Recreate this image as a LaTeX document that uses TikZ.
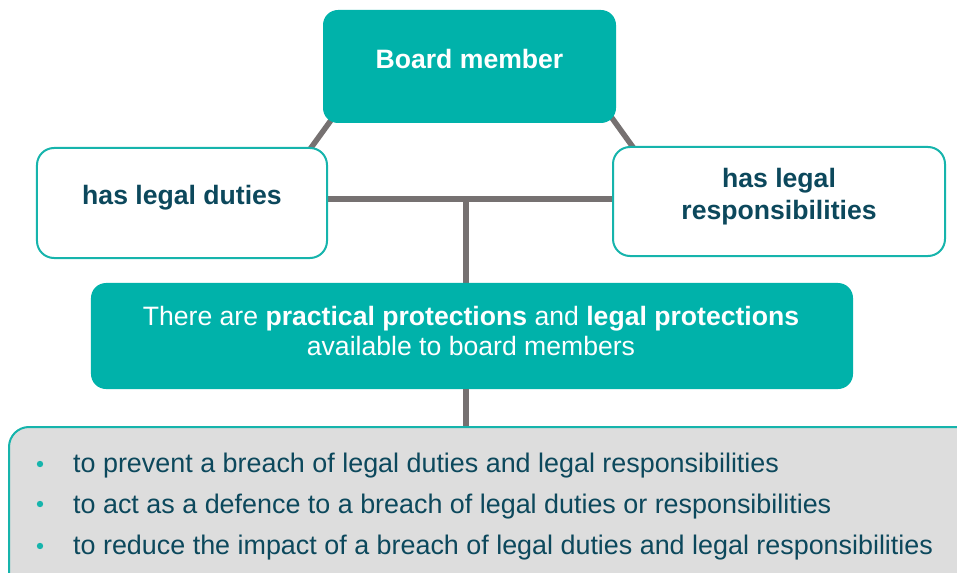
\documentclass[tikz,border=0pt]{standalone}
\usepackage{fontspec}
\setmainfont{Liberation Sans}
\usetikzlibrary{backgrounds}
\definecolor{boardteal}{RGB}{0,178,170}
\definecolor{edgeteal}{RGB}{22,180,172}
\definecolor{darktext}{RGB}{12,72,92}
\definecolor{linkgrey}{RGB}{118,113,113}
\definecolor{listgrey}{RGB}{221,221,221}
\tikzset{
	tealbox/.style={rectangle, rounded corners=15bp, fill=boardteal, inner sep=0pt},
	whitebox/.style={rectangle, rounded corners=17bp, draw=edgeteal, line width=2bp, fill=white, inner sep=0pt},
	headtext/.style={font=\fontsize{26.7}{32}\selectfont\bfseries, text=darktext, align=center, inner sep=0pt},
	bodytext/.style={font=\fontsize{26.7}{31}\selectfont, text=white, align=center, inner sep=0pt},
	listtext/.style={font=\fontsize{27}{32}\selectfont, text=darktext, inner sep=0pt, anchor=base west},
	link/.style={draw=linkgrey, line width=5.5bp},
}

\begin{document}
\begin{tikzpicture}[x=1bp, y=-1bp]
			%%%%% START %%%%%
			\useasboundingbox (0,0) rectangle (957,573);
			\clip (0,0) rectangle (957,573);
			
			% top of the tree
			\node[tealbox, minimum width=293bp, minimum height=113bp] (board) at (469.5,66.5) {};
			\node[headtext, text=white, anchor=base] (boardtxt) at (469.5,69) {Board member};
			
			% the two branches
			\node[whitebox, minimum width=290bp, minimum height=110bp] (duties) at (182,203) {};
			\node[headtext, anchor=base] (dutiestxt) at (182,205) {has legal duties};
			
			\node[whitebox, minimum width=332bp, minimum height=109bp] (resp) at (779,201.5) {};
			\node[headtext] (resptxt) at (779,197) {has legal\\responsibilities};
			
			% protections
			\node[tealbox, minimum width=762bp, minimum height=106bp] (protect) at (472,336) {};
			\node[bodytext] (protecttxt) at (471,331) {There are \textbf{practical protections} and \textbf{legal protections}\\available to board members};
			
			% list of what they are for
			\draw[draw=edgeteal, fill=listgrey, line width=2bp, rounded corners=20bp] (9,427) rectangle (980,610);
			\coordinate (listtop) at (466,427);
			
			\fill[edgeteal] (40,464) circle (3.2bp);
			\fill[edgeteal] (40,504) circle (3.2bp);
			\fill[edgeteal] (40,546) circle (3.2bp);
			\node[listtext] (prevent) at (73,472) {to prevent a breach of legal duties and legal responsibilities};
			\node[listtext] (defence) at (73,513) {to act as a defence to a breach of legal duties or responsibilities};
			\node[listtext] (impact) at (73,554) {to reduce the impact of a breach of legal duties and legal responsibilities};
			
			% connectors, behind the boxes
			\coordinate (junction) at (466,199);
			\begin{scope}[on background layer]
				\draw[link] ([xshift=14bp, yshift=11bp]board.south west) -- ([xshift=-20bp, yshift=-5bp]duties.north east);
				\draw[link] ([xshift=-12bp, yshift=16bp]board.south east) -- ([xshift=23bp, yshift=-4bp]resp.north west);
				\draw[link] (duties.east |- junction) -- (resp.west |- junction);
				\draw[link] (junction) -- (protect.north -| junction);
			\end{scope}
			\draw[link] (protect.south -| junction) -- ([yshift=1bp]listtop);
			
			%%%%% END %%%%%
\end{tikzpicture}
\end{document}
